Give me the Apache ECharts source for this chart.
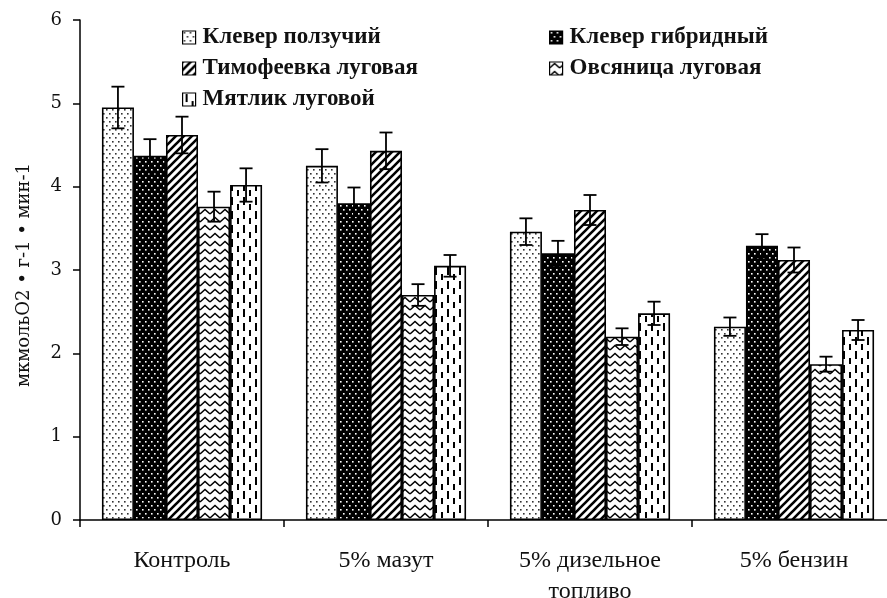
<!DOCTYPE html>
<html>
<head>
<meta charset="utf-8">
<script src="https://cdn.jsdelivr.net/npm/echarts@6/dist/echarts.min.js"></script>
<style>html,body{margin:0;padding:0;background:#fff}#c{width:887px;height:598px}</style>
</head>
<body>
<div id="c"></div>
<script>
const categories = ['Контроль', '5% мазут', '5% дизельное\nтопливо', '5% бензин'];
const seriesNames = ['Клевер ползучий', 'Клевер гибридный', 'Тимофеевка луговая', 'Овсяница луговая', 'Мятлик луговой'];
const klevPolzuchiy = [4.95, 4.25, 3.46, 2.32];
const klevGibridny = [4.37, 3.80, 3.20, 3.29];
const timofeevka = [4.62, 4.43, 3.72, 3.12];
const ovsyanitsa = [3.76, 2.70, 2.20, 1.87];
const myatlik = [4.02, 3.05, 2.48, 2.28];
const errKlevPolzuchiy = [0.25, 0.20, 0.16, 0.11];
const errKlevGibridny = [0.20, 0.19, 0.15, 0.14];
const errTimofeevka = [0.22, 0.22, 0.18, 0.15];
const errOvsyanitsa = [0.18, 0.13, 0.10, 0.09];
const errMyatlik = [0.20, 0.13, 0.14, 0.12];
const yTicks = [0, 1, 2, 3, 4, 5, 6];

const values = [klevPolzuchiy, klevGibridny, timofeevka, ovsyanitsa, myatlik];
const errors = [errKlevPolzuchiy, errKlevGibridny, errTimofeevka, errOvsyanitsa, errMyatlik];

function makePattern(draw, w, h) {
  const c = document.createElement('canvas');
  c.width = w; c.height = h;
  const ctx = c.getContext('2d');
  draw(ctx, w, h);
  return { image: c, repeat: 'repeat' };
}
const patterns = [
  makePattern((ctx, w, h) => {
    ctx.fillStyle = '#fff'; ctx.fillRect(0, 0, w, h);
    ctx.fillStyle = '#333';
    ctx.fillRect(1, 1, 1.6, 1.6); ctx.fillRect(4, 5, 1.6, 1.6);
  }, 6, 8),
  makePattern((ctx, w, h) => {
    ctx.fillStyle = '#000'; ctx.fillRect(0, 0, w, h);
    ctx.fillStyle = '#fff';
    ctx.fillRect(1, 1, 1.6, 1.6); ctx.fillRect(4, 5, 1.6, 1.6);
  }, 6, 8),
  makePattern((ctx, w, h) => {
    ctx.fillStyle = '#fff'; ctx.fillRect(0, 0, w, h);
    ctx.strokeStyle = '#000'; ctx.lineWidth = 2.6;
    ctx.beginPath();
    ctx.moveTo(-2, h + 2); ctx.lineTo(w + 2, -2);
    ctx.moveTo(-6, 6); ctx.lineTo(6, -6);
    ctx.moveTo(2, 14); ctx.lineTo(14, 2);
    ctx.stroke();
  }, 8, 8),
  makePattern((ctx, w, h) => {
    ctx.fillStyle = '#fff'; ctx.fillRect(0, 0, w, h);
    ctx.strokeStyle = '#000'; ctx.lineWidth = 1.5;
    ctx.beginPath();
    ctx.moveTo(0, 6); ctx.lineTo(5, 1.5); ctx.lineTo(10, 6);
    ctx.stroke();
  }, 10, 8),
  makePattern((ctx, w, h) => {
    ctx.fillStyle = '#fff'; ctx.fillRect(0, 0, w, h);
    ctx.fillStyle = '#000';
    ctx.fillRect(3, 1, 2, 8);
    ctx.fillRect(9, 8, 2, 8);
  }, 12, 14)
];

const GAP = 0.215;
const barSeries = seriesNames.map((name, i) => ({
  name: name,
  type: 'bar',
  data: values[i],
  barGap: '0%',
  barCategoryGap: (GAP * 100) + '%',
  itemStyle: { color: patterns[i], borderColor: '#000', borderWidth: 1.6 },
  emphasis: { disabled: true },
  z: 2
}));

const errSeries = seriesNames.map((name, i) => ({
  type: 'custom',
  name: name + ' err',
  data: values[i].map((v, k) => [k, v, errors[i][k]]),
  z: 10,
  silent: true,
  renderItem: function (params, api) {
    const cat = api.value(0), v = api.value(1), e = api.value(2);
    const bandW = api.size([1, 0])[0];
    const barW = bandW * (1 - GAP) / 5;
    const cx = api.coord([cat, v])[0] + (i - 2) * barW;
    const yTop = api.coord([cat, v + e])[1];
    const yBot = api.coord([cat, v - e])[1];
    const cap = 6.5;
    const st = { stroke: '#000', lineWidth: 1.8 };
    return {
      type: 'group',
      children: [
        { type: 'line', shape: { x1: cx, y1: yTop, x2: cx, y2: yBot }, style: st },
        { type: 'line', shape: { x1: cx - cap, y1: yTop, x2: cx + cap, y2: yTop }, style: st },
        { type: 'line', shape: { x1: cx - cap, y1: yBot, x2: cx + cap, y2: yBot }, style: st }
      ]
    };
  }
}));

const font = 'Liberation Serif';
const legendText = { fontFamily: font, fontSize: 23, fontWeight: 'bold', color: '#111', lineHeight: 23, padding: [0, 0, 0, 2] };
const legendCommon = {
  orient: 'vertical', top: 21, itemGap: 8,
  itemWidth: 13, itemHeight: 13, icon: 'rect',
  itemStyle: { borderWidth: 1.2, borderColor: '#000' },
  textStyle: legendText, selectedMode: false
};

const chart = echarts.init(document.getElementById('c'), null, { renderer: 'canvas' });
chart.setOption({
  animation: false,
  backgroundColor: '#fff',
  grid: { left: 80, top: 20, width: 816, height: 500, outerBoundsMode: 'none', containLabel: false },
  legend: [
    Object.assign({ data: [seriesNames[0], seriesNames[2], seriesNames[4]], left: 177 }, legendCommon),
    Object.assign({ data: [seriesNames[1], seriesNames[3]], left: 544 }, legendCommon)
  ],
  xAxis: {
    type: 'category',
    data: categories,
    axisLine: { lineStyle: { color: '#000', width: 1.5 } },
    axisTick: { show: true, length: 7, lineStyle: { color: '#000', width: 1.5 } },
    axisLabel: { fontFamily: font, fontSize: 24, color: '#111', margin: 25, lineHeight: 31 }
  },
  yAxis: {
    type: 'value',
    min: yTicks[0], max: yTicks[yTicks.length - 1], interval: 1,
    name: 'мкмольО2 • г-1 • мин-1',
    nameLocation: 'middle', nameRotate: 90, nameGap: 47,
    nameTextStyle: { fontFamily: 'DejaVu Serif', fontSize: 18, color: '#111', padding: [0, 10, 0, 0] },
    axisLine: { show: true, lineStyle: { color: '#000', width: 1.5 } },
    axisTick: { show: true, length: 7, lineStyle: { color: '#000', width: 1.5 } },
    axisLabel: { fontFamily: 'DejaVu Serif', fontSize: 18, color: '#111', margin: 18 },
    splitLine: { show: false }
  },
  series: barSeries.concat(errSeries)
});
</script>
</body>
</html>
